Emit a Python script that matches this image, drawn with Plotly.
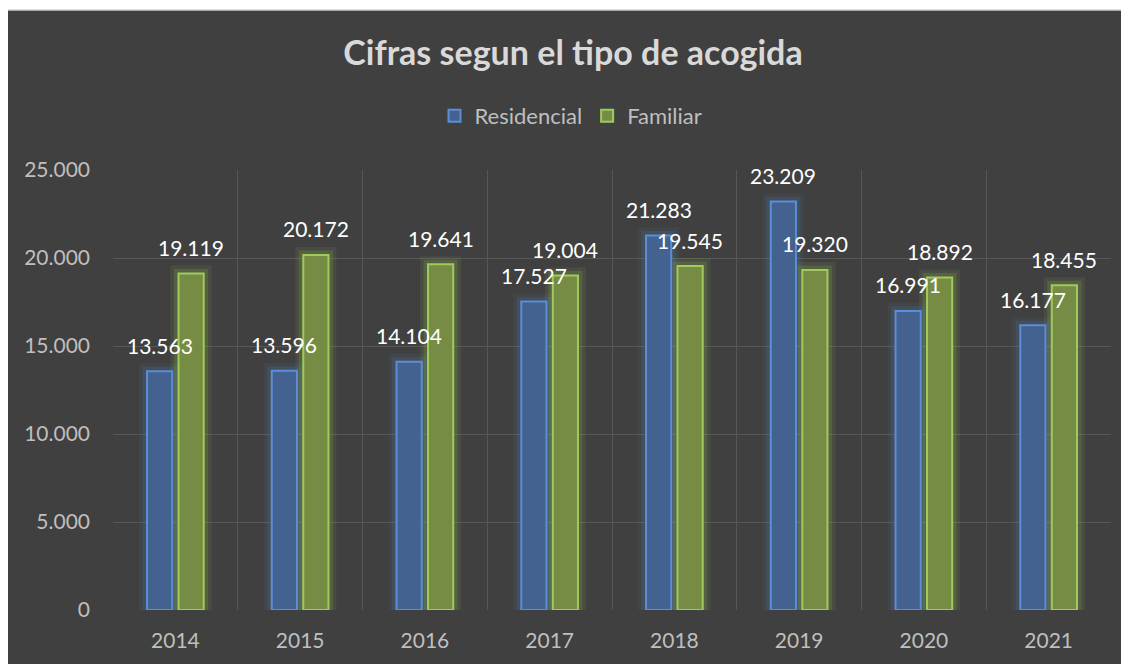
import plotly.graph_objects as go

years = ["2014", "2015", "2016", "2017", "2018", "2019", "2020", "2021"]
residencial = [13563, 13596, 14104, 17527, 21283, 23209, 16991, 16177]
familiar = [19119, 20172, 19641, 19004, 19545, 19320, 18892, 18455]
y_ticks = [0, 5000, 10000, 15000, 20000, 25000]
series_names = ["Residencial", "Familiar"]

FONT = "Lato"
BG = "#404040"
GRID = "#575757"

blue_fill, blue_line = "#44628F", "#5B8ED6"
green_fill, green_line = "#768C45", "#9FCB5C"

fig = go.Figure()

# soft glow layers (drawn beneath the bars, same offset group)
for vals, grp, rgb in [(residencial, "a", "79,129,189"), (familiar, "b", "160,205,80")]:
    for w, a in [(16, 0.09), (9, 0.16)]:
        fig.add_trace(go.Bar(
            x=years, y=vals, offsetgroup=grp, showlegend=False, hoverinfo="skip",
            marker=dict(color="rgba(0,0,0,0)", line=dict(color=f"rgba({rgb},{a})", width=w)),
        ))

fig.add_trace(go.Bar(
    x=years, y=residencial, name=series_names[0], offsetgroup="a",
    marker=dict(color=blue_fill, line=dict(color=blue_line, width=2)),
))
fig.add_trace(go.Bar(
    x=years, y=familiar, name=series_names[1], offsetgroup="b",
    marker=dict(color=green_fill, line=dict(color=green_line, width=2)),
))

def fmt(v):
    return f"{v:,}".replace(",", ".")

annotations = []
for vals, xs in [(residencial, -15.75), (familiar, 15.75)]:
    for i, v in enumerate(vals):
        annotations.append(dict(
            x=i, y=v, xref="x", yref="y", text=fmt(v), showarrow=False,
            xshift=xs, yshift=26, yanchor="middle", xanchor="center",
            font=dict(family=FONT, size=21, color="#FFFFFF"),
        ))

# page body has an 8px margin; figure coords = screen coords - 8
W, H = 1121, 656
L, R, T, B = 105, 18, 162, 54
pw, ph = W - L - R, H - T - B

shapes = [dict(
    type="rect", xref="paper", yref="paper", layer="below",
    x0=(-2 - L) / pw, x1=(W + 10 - L) / pw,
    y0=-(B + 10) / ph, y1=(H - B - 2) / ph,
    fillcolor=BG, line=dict(color="#D0D0D0", width=1.5),
)]

fig.update_layout(
    width=W, height=H,
    margin=dict(l=L, r=R, t=T, b=B, pad=0, autoexpand=False),
    paper_bgcolor="#FFFFFF", plot_bgcolor=BG,
    barmode="group", bargap=0.495, bargroupgap=0.2,
    separators=",.",
    font=dict(family=FONT, color="#BFBFBF"),
    title=dict(
        text="<b>Cifras segun el tipo de acogida</b>",
        x=565 / W, xanchor="center", y=1 - 45 / H, yanchor="middle", yref="container",
        font=dict(family=FONT, size=34, color="#D9D9D9"),
    ),
    legend=dict(
        orientation="h", x=(563 - L) / pw, xanchor="center",
        y=(H - B - 108) / ph, yanchor="middle",
        font=dict(family=FONT, size=22, color="#BFBFBF"),
        bgcolor="rgba(0,0,0,0)",
    ),
    xaxis=dict(
        type="category", tickson="boundaries", showgrid=True, gridcolor=GRID, gridwidth=1,
        ticks="", showline=False, zeroline=False, range=[-0.5, 7.5], tickangle=0,
        tickfont=dict(family=FONT, size=21, color="#BFBFBF"),
        ticklabelstandoff=16,
    ),
    yaxis=dict(
        range=[0, 25000], tickvals=y_ticks, tickformat=",",
        showgrid=True, gridcolor=GRID, gridwidth=1, zeroline=False, showline=False,
        ticks="", tickfont=dict(family=FONT, size=21, color="#BFBFBF"),
        ticklabelstandoff=22,
    ),
    annotations=annotations,
    shapes=shapes,
    showlegend=True,
)

fig.write_html("out.html")
